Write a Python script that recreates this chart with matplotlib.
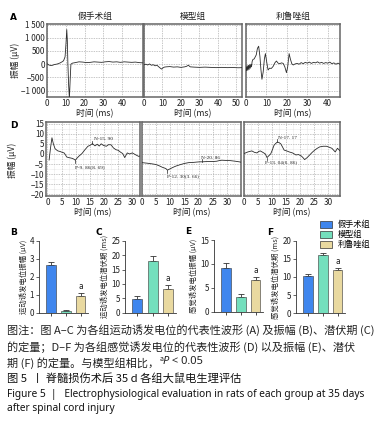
import numpy as np
import matplotlib
matplotlib.use("Agg")
import matplotlib.pyplot as plt
from matplotlib.patches import Patch
from matplotlib.ticker import MultipleLocator

plt.rcParams['font.family'] = ['Noto Sans CJK SC', 'DejaVu Sans']
plt.rcParams['axes.unicode_minus'] = True

W, H = 383, 424

groups = ['假手术组', '模型组', '利鲁唑组']
bar_colors = ['#3f86ee', '#74dfbd', '#e9d9a0']

# A: motor evoked potential traces (ms, uV)
t_a1 = [0, 1, 2, 3, 4, 5, 6, 7, 8, 8.8, 9.6, 10.1, 10.5, 10.8, 11.1, 11.5, 11.9, 12.3, 12.7, 13.5,
        15, 17, 19, 21, 23, 25, 27, 29, 31, 33, 35, 37, 39, 41, 43, 45, 47, 49, 51]
v_a1 = [20, -30, -50, -40, -10, 0, 20, 50, 90, 130, 280, 800, 1310, 900, 0, -800, -1300, -600, 0, 40,
        60, 90, 80, 60, 70, 90, 80, 70, 90, 100, 80, 90, 70, 90, 80, 70, 80, 60, 50]
t_a2 = [0, 1, 2, 3, 4, 5, 6, 7, 8, 9, 9.5, 10, 11, 12, 14, 16, 18, 20, 22, 23, 24, 25, 27, 30, 33,
        36, 39, 42, 45, 48, 51, 53]
v_a2 = [-20, 0, -30, 10, -40, -20, -60, -40, -100, -160, -185, -150, -110, -100, -90, -110, -100,
        -120, -100, -80, -40, -100, -110, -120, -110, -120, -130, -120, -130, -125, -135, -130]
t_a3 = [0, 0.3, 0.6, 0.9, 1.2, 1.5, 1.8, 2.1, 2.4, 2.7, 3.0, 3.4, 4, 5, 5.6, 6.2, 6.8, 7.3, 7.8, 8.4,
        9.0, 9.5, 10.1, 10.8, 11.5, 12.4, 13.3, 14.2, 14.9, 15.7, 16.5, 17.4, 18.2, 19, 19.8, 20.4,
        21.1, 21.7, 22.4, 23.1, 24, 25, 26, 27, 28, 29, 30, 31, 32, 33, 34, 35, 36, 37, 38, 39, 40,
        41, 42, 43, 44, 45, 46]
v_a3 = [-100, -250, -60, -230, -40, -200, -20, -150, 0, -100, 100, 180, 200, 350, 600, 680, 300,
        -200, -570, -300, 200, 400, 100, -220, -150, -160, -80, 60, 120, 40, 20, 50, 30, -100, -320,
        -100, 400, 200, 20, -30, 10, 30, 0, 60, 20, 70, 40, 80, 30, 70, 50, 90, 40, 70, 30, 60, 40,
        80, 20, 50, 0, 40, 0]

# D: sensory evoked potential traces (ms, uV)
t_d1 = [0.6, 1.1, 1.6, 2.1, 2.7, 3.2, 3.7, 4.5, 5.2, 5.9, 6.4, 6.8, 7.5, 8.2, 8.8, 9.4, 9.86, 10.5,
        11.2, 12.2, 13.2, 14.3, 15.0, 15.9, 16.8, 17.6, 18.3, 19, 19.8, 20.8, 21.6, 22.5, 23.3, 24.2,
        25, 25.9, 26.6, 27.3, 27.8, 28.2, 29, 30, 31, 32.2, 32.7]
v_d1 = [-3, 3, 8, 5, 2.6, 2, 1.5, 1.2, 0.8, 0.5, -0.5, -1.5, -1.8, -2.0, -2.2, -2.6, -3.1, -2.0,
        -1.0, 0.2, 2.0, 3.8, 4.2, 5.1, 4.0, 4.8, 3.9, 5.0, 4.2, 3.8, 4.6, 4.5, 3.0, 2.1, 1.8, 0.8,
        0.2, -1.8, -0.5, 0.5, 0.0, 0.5, -0.3, -1.2, -1.0]
t_d2 = [0, 2, 4, 4.8, 6, 7.2, 8.4, 9.0, 10, 11, 12, 13.5, 15, 16.5, 18, 19.5, 20.4, 21.2, 22.5, 24,
        25.5, 26.4, 27.3, 28.2, 29.5, 31.2, 33, 34.8, 35]
v_d2 = [-4.3, -4.6, -5.0, -5.2, -5.8, -6.6, -7.2, -8.0, -7.3, -6.6, -6.0, -5.3, -4.7, -4.3, -4.2,
        -4.0, -3.9, -3.9, -3.8, -3.7, -3.7, -3.6, -3.3, -3.1, -3.2, -3.3, -3.6, -4.0, -4.1]
t_d3 = [0, 1.4, 2.8, 3.7, 4.6, 5.2, 5.8, 6.7, 7.6, 8.2, 8.9, 9.5, 10.1, 10.7, 11.3, 11.9, 12.5, 13.1,
        13.7, 14.3, 15.2, 16.1, 17.3, 18.5, 19.4, 20.4, 21.0, 21.6, 22.5, 23.4, 24.3, 25.2, 26.1, 27,
        28.2, 29.4, 30.4, 31.3, 32.5, 33.3, 34.3]
v_d3 = [0.2, 1.0, 1.5, 0.8, 0.5, 1.2, 1.5, 0.8, 0.0, -1.8, -0.8, 0.0, 2.0, 4.3, 5.2, 5.9, 5.6, 5.0,
        3.5, 1.9, 1.5, 1.0, 0.5, -0.5, -0.3, -1.0, -1.8, -2.8, -1.8, -0.5, 0.8, 1.9, 2.8, 3.5, 3.8,
        3.8, 3.3, 2.8, 1.0, 2.8, 1.4]

# P / N peaks: (time, value, label)
peaks_d1 = [(9.86, -3.1, 'P-9. 86(8. 69)'), (15.9, 5.1, 'N-15. 90')]
peaks_d2 = [(9.0, -8.0, 'P-12. 30(3. 66)'), (21.2, -3.9, 'N-20. 86')]
peaks_d3 = [(8.2, -1.8, 'P-13. 04(6. 86)'), (11.9, 5.9, 'N-17. 17')]

# B, C, E, F quantification (mean, error)
mep_amp = [2.66, 0.11, 0.94]
mep_amp_err = [0.17, 0.03, 0.14]
mep_lat = [4.8, 17.8, 8.1]
mep_lat_err = [1.1, 1.8, 1.4]
sep_amp = [9.1, 3.1, 6.7]
sep_amp_err = [1.0, 0.6, 0.6]
sep_lat = [10.4, 16.1, 11.9]
sep_lat_err = [0.3, 0.6, 0.6]


def px_axes(fig, x0, y0, x1, y1):
    return fig.add_axes([x0 / W, 1 - y1 / H, (x1 - x0) / W, (y1 - y0) / H])


def wave_panel(fig, box, t, v, xlim, ylim, xmaj, ymaj, minor=None, show_y=False):
    ax = px_axes(fig, *box)
    ax.plot(t, v, color='#2b2b2b', lw=0.6, zorder=3)
    ax.set_xlim(*xlim)
    ax.set_ylim(*ylim)
    ax.xaxis.set_major_locator(MultipleLocator(xmaj))
    ax.yaxis.set_major_locator(MultipleLocator(ymaj))
    if minor:
        ax.xaxis.set_minor_locator(MultipleLocator(minor[0]))
        ax.yaxis.set_minor_locator(MultipleLocator(minor[1]))
        ax.grid(which='minor', color='#d8d8d8', lw=0.4, ls=(0, (1, 1)))
    ax.grid(which='major', color='#b0b0b0', lw=0.5, ls=(0, (2, 1.5)))
    ax.tick_params(which='both', length=0, labelsize=5.8, pad=1.5, colors='#222')
    for s in ax.spines.values():
        s.set_color('#666')
        s.set_linewidth(1.1)
    if not show_y:
        ax.set_yticklabels([])
    ax.set_xlabel('时间 (ms)', fontsize=6.3, labelpad=0.5, color='#222')
    return ax


def mark_peaks(ax, peaks, label_pos):
    for (t, v, lab), (lx, ly) in zip(peaks, label_pos):
        d = -1.4 if lab.startswith('P') else 1.4
        ax.plot([t, t], [v, v + d], color='#222', lw=0.5, zorder=4)
        ax.text(lx, ly, lab, fontsize=3.8, family='Liberation Serif', color='#222',
                ha='left', va='center', zorder=5)


def bar_panel(fig, box, vals, errs, ymax, ystep, ylabel, letter, sig_idx=2):
    ax = px_axes(fig, *box)
    x = np.arange(len(vals))
    ax.bar(x, vals, width=0.66, color=bar_colors, edgecolor='#333', lw=0.4, zorder=2)
    ax.errorbar(x, vals, yerr=[np.zeros(len(errs)), errs], fmt='none', ecolor='#333',
                elinewidth=0.6, capsize=2.2, capthick=0.6, zorder=1)
    ax.text(x[sig_idx], vals[sig_idx] + errs[sig_idx] + ymax * 0.03, 'a', ha='center',
            va='bottom', fontsize=5.5, family='DejaVu Sans', color='#222')
    ax.set_xlim(-0.78, 2.5)
    ax.set_ylim(0, ymax)
    ax.set_yticks(np.arange(0, ymax + 0.01, ystep))
    ax.set_xticks(x)
    ax.set_xticklabels([])
    for s in ['top', 'right']:
        ax.spines[s].set_visible(False)
    for s in ['left', 'bottom']:
        ax.spines[s].set_linewidth(0.6)
        ax.spines[s].set_color('#333')
    ax.tick_params(axis='y', length=2, width=0.5, labelsize=5.8, pad=1.5, colors='#222')
    ax.tick_params(axis='x', length=2, width=0.5)
    ax.set_ylabel(ylabel, fontsize=5.3, labelpad=1.5, color='#222')
    fig.text((box[0] - 29) / W, 1 - (box[1] - 8) / H, letter, fontsize=6.5,
             fontweight='bold', family='DejaVu Sans', ha='left', va='center')
    return ax


def main():
    fig = plt.figure(figsize=(W / 100, H / 100), dpi=100)

    # ---- panel A ----
    a1 = wave_panel(fig, (47, 24, 143, 97), t_a1, v_a1, (0, 51), (-1240, 1520), 10, 500, show_y=True)
    a1.set_yticks([-1000, -500, 0, 500, 1000, 1500])
    a1.set_yticklabels(['\u22121 000', '\u2212500', '0', '500', '1 000', '1 500'])
    a1.set_xticks([0, 10, 20, 30, 40])
    a2 = wave_panel(fig, (144, 24, 242, 97), t_a2, v_a2, (0, 53), (-1240, 1520), 10, 500)
    a3 = wave_panel(fig, (246, 24, 340, 97), t_a3, v_a3, (0, 46), (-1240, 1520), 10, 500)
    for ax, g in zip([a1, a2, a3], groups):
        ax.set_title(g, fontsize=6.3, pad=3.5, color='#222')
    fig.text(15 / W, 1 - 60 / H, '振幅 (μV)', rotation=90, fontsize=6.2, ha='center', va='center',
             color='#222')
    fig.text(10 / W, 1 - 17 / H, 'A', fontsize=6.5, fontweight='bold', family='DejaVu Sans',
             ha='left', va='center')

    # ---- panel D ----
    d1 = wave_panel(fig, (46, 122, 140, 196), t_d1, v_d1, (-0.5, 32.7), (-20.8, 15.8), 5, 5,
                    minor=(2.5, 2.5), show_y=True)
    d1.set_yticks(np.arange(-20, 16, 5))
    d1.set_yticklabels([str(k).replace('-', '\u2212') for k in range(-20, 16, 5)])
    d1.set_xticks(np.arange(0, 31, 5))
    d2 = wave_panel(fig, (142, 122, 241, 196), t_d2, v_d2, (0, 35), (-20.8, 15.8), 5, 5,
                    minor=(2.5, 2.5))
    d2.set_xticks(np.arange(0, 31, 5))
    d3 = wave_panel(fig, (244, 122, 340, 196), t_d3, v_d3, (0, 34.2), (-20.8, 15.8), 5, 5,
                    minor=(2.5, 2.5))
    d3.set_xticks(np.arange(0, 31, 5))
    mark_peaks(d1, peaks_d1, [(9.8, -6.4), (16.3, 7.6)])
    mark_peaks(d2, peaks_d2, [(8.9, -11.0), (21.0, -2.0)])
    mark_peaks(d3, peaks_d3, [(7.6, -4.2), (12.0, 8.1)])
    fig.text(12 / W, 1 - 160 / H, '振幅 (μV)', rotation=90, fontsize=6.2, ha='center', va='center',
             color='#222')
    fig.text(10 / W, 1 - 125 / H, 'D', fontsize=6.5, fontweight='bold', family='DejaVu Sans',
             ha='left', va='center')

    # ---- panels B, C, E, F ----
    bar_panel(fig, (39, 240.7, 88, 312.7), mep_amp, mep_amp_err, 4, 1, '运动诱发电位振幅 (μV)', 'B')
    bar_panel(fig, (125, 240.7, 176, 312.7), mep_lat, mep_lat_err, 25, 5, '运动诱发电位潜伏期 (ms)', 'C')
    bar_panel(fig, (214, 240, 263, 311.7), sep_amp, sep_amp_err, 15, 5, '感觉诱发电位振幅 (μV)', 'E')
    bar_panel(fig, (296, 240.7, 345, 313.3), sep_lat, sep_lat_err, 20, 5, '感觉诱发电位潜伏期 (ms)', 'F')

    handles = [Patch(facecolor=c, edgecolor='#333', lw=0.5, label=g) for c, g in zip(bar_colors, groups)]
    fig.legend(handles=handles, loc='upper left', bbox_to_anchor=(320 / W, 1 - 220 / H),
               frameon=False, fontsize=5.9, handlelength=1.5, handleheight=0.9,
               labelspacing=0.15, borderpad=0, borderaxespad=0, handletextpad=0.7)

    # ---- caption ----
    cap_kw = dict(fontsize=8, color='#222', ha='left', va='center')
    fig.text(7 / W, 1 - 330 / H, '图注：图 A–C 为各组运动诱发电位的代表性波形 (A) 及振幅 (B)、潜伏期 (C)', **cap_kw)
    fig.text(7 / W, 1 - 347 / H, '的定量；D–F 为各组感觉诱发电位的代表性波形 (D) 以及振幅 (E)、潜伏', **cap_kw)
    t0 = fig.text(7 / W, 1 - 363 / H, '期 (F) 的定量。与模型组相比，', **cap_kw)
    t1 = plt.annotate('a', xy=(1, 0.5), xycoords=t0, fontsize=5, color='#222', va='bottom')
    t2 = plt.annotate('P', xy=(1, -0.5), xycoords=t1, fontsize=8, color='#222', va='bottom',
                      style='italic', family=['Noto Sans', 'DejaVu Sans'])
    plt.annotate(' < 0.05', xy=(1, 0), xycoords=t2, fontsize=8, color='#222', va='bottom',
                 family=['Noto Sans', 'DejaVu Sans'])
    fig.text(7 / W, 1 - 379 / H, '图 5  丨 脊髓损伤术后 35 d 各组大鼠电生理评估', fontsize=8.1,
             color='#111', ha='left', va='center', fontweight='medium')
    fig.text(7 / W, 1 - 394 / H, 'Figure 5  |   Electrophysiological evaluation in rats of each group at 35 days',
             fontsize=7.3, color='#111', ha='left', va='center', fontweight='bold',
             family=['Noto Sans', 'DejaVu Sans'])
    fig.text(7 / W, 1 - 409 / H, 'after spinal cord injury', fontsize=7.3, color='#111', ha='left',
             va='center', fontweight='bold', family=['Noto Sans', 'DejaVu Sans'])

    fig.savefig('out.png', dpi=100)


if __name__ == "__main__":
    main()
